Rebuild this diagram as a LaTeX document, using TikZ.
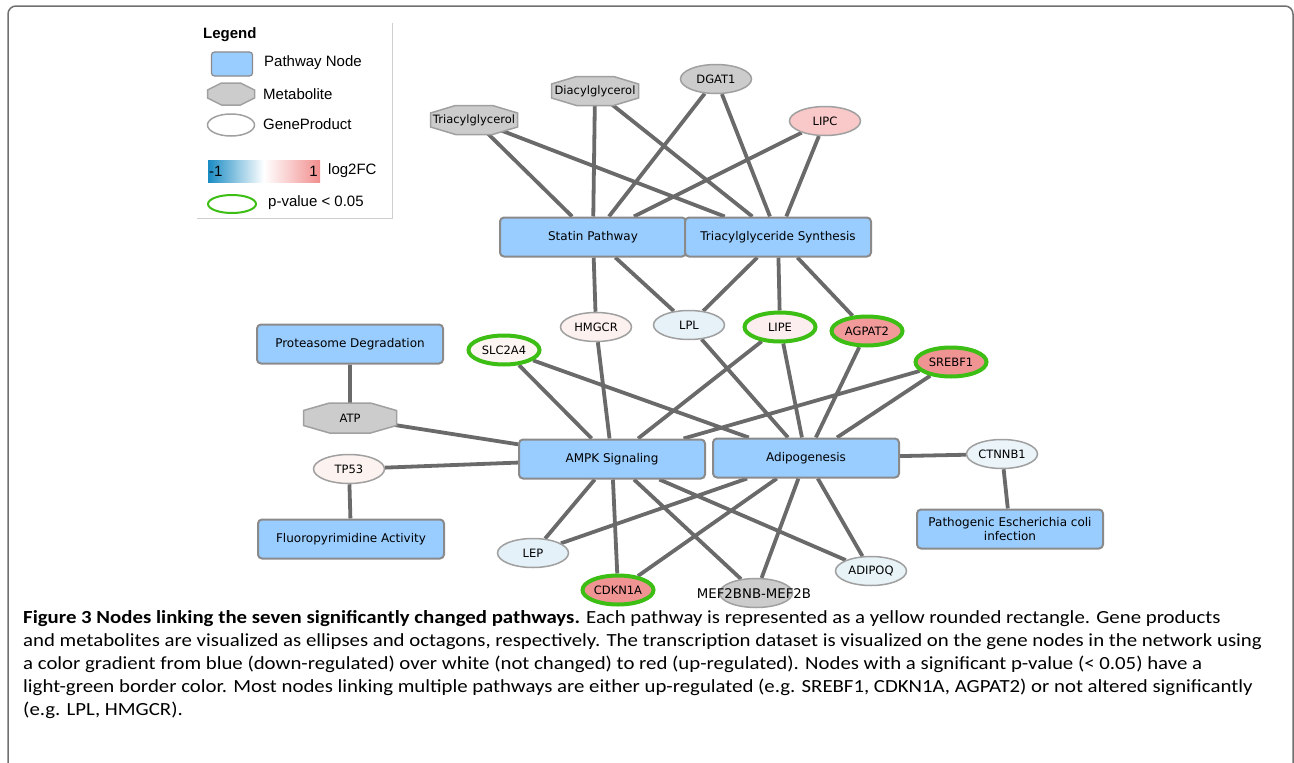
\documentclass[tikz,border=0pt]{standalone}
\usepackage{fontspec}
\setmainfont{DejaVu Sans}
\newfontfamily\legfont{Liberation Sans}
\newfontfamily\capfont[FakeStretch=1.125]{Carlito}
\usetikzlibrary{shapes.geometric}
\pgfdeclarelayer{edgelayer}
\pgfdeclarelayer{shapelayer}
\pgfsetlayers{edgelayer,shapelayer,main}
\definecolor{pathfill}{HTML}{99CCFF}
\definecolor{pathbord}{HTML}{8A8A8A}
\definecolor{genebord}{HTML}{A0A0A0}
\definecolor{sigcol}{HTML}{3CBE14}
\definecolor{metfill}{HTML}{CCCCCC}
\definecolor{edgecol}{HTML}{6A6A6A}
\definecolor{framecol}{HTML}{707070}
\definecolor{legbord}{HTML}{CFCFCF}
\definecolor{gradblue}{HTML}{1A8CC4}
\definecolor{gradred}{HTML}{F28E8E}
\definecolor{cLIPC}{HTML}{F9C8C8}
\definecolor{cHMGCR}{HTML}{FCF1EF}
\definecolor{cLPL}{HTML}{E6F2F8}
\definecolor{cLIPE}{HTML}{FCEEEE}
\definecolor{cAGPAT}{HTML}{F29A9A}
\definecolor{cSREBF}{HTML}{EF9393}
\definecolor{cSLC}{HTML}{FDF5F2}
\definecolor{cTP}{HTML}{FCF3F0}
\definecolor{cCTN}{HTML}{EAF4F9}
\definecolor{cLEP}{HTML}{E4F1F8}
\definecolor{cCDK}{HTML}{EF9393}
\definecolor{cADI}{HTML}{E8F3F8}
\newcommand\drawoct[3]{%
  \begin{pgfonlayer}{shapelayer}
  \path[metshape] ([xshift=#2]#1.north west) -- ([xshift=-#2]#1.north east)
    -- ([yshift=-#3]#1.north east) -- ([yshift=#3]#1.south east)
    -- ([xshift=-#2]#1.south east) -- ([xshift=#2]#1.south west)
    -- ([yshift=#3]#1.south west) -- ([yshift=-#3]#1.north west) -- cycle;
  \end{pgfonlayer}}
\begin{document}
\begin{tikzpicture}[x=1pt,y=-1pt,
  pathway/.style={draw=pathbord, line width=2pt, fill=pathfill, rounded corners=4pt,
    minimum width=186pt, minimum height=39pt, inner sep=2pt, align=center,
    font=\fontsize{12}{14}\selectfont},
  gene/.style={ellipse, draw=genebord, line width=1.5pt, minimum width=71pt,
    minimum height=29pt, inner sep=0pt, font=\fontsize{11.5}{13}\selectfont},
  sig/.style={draw=sigcol, line width=4pt},
  metab/.style={rectangle, minimum width=87pt, minimum height=29pt,
    inner sep=0pt, outer sep=0pt, font=\fontsize{11.5}{13}\selectfont},
  metshape/.style={draw=genebord, fill=metfill, line width=1.5pt, line join=miter},
  link/.style={draw=edgecol, line width=3.8pt},
  legtext/.style={anchor=west, inner sep=0pt, font=\legfont\fontsize{15}{17}\selectfont},
  capline/.style={anchor=base west, inner sep=0pt, font=\capfont\fontsize{18.5}{22}\selectfont}
]
\useasboundingbox (0,0) rectangle (1294,763);
% frame
\draw[framecol, line width=1.5pt, rounded corners=8pt] (8,770) -- (8,6) -- (1293,6) -- (1293,770);

% legend
\draw[legbord, line width=1pt] (197,218) -- (392,218) -- (392,23);
\node[anchor=west, inner sep=0pt, font=\legfont\bfseries\fontsize{15}{17}\selectfont] (legtitle) at (203,35) {Legend};
\node[draw=pathbord, line width=1.2pt, fill=pathfill, rounded corners=3pt, minimum width=41pt, minimum height=24pt] (legpath) at (232,64) {};
\node[legtext] (legpathtxt) at (264,63) {Pathway Node};
\node[metab, minimum width=47pt, minimum height=22pt] (legmet) at (231,94) {};
\drawoct{legmet}{14pt}{7pt}
\node[legtext] (legmettxt) at (263,94) {Metabolite};
\node[gene, fill=white, minimum width=47pt, minimum height=22pt] (leggene) at (231,125) {};
\node[legtext] (leggenetxt) at (263,124) {GeneProduct};
\shade[left color=gradblue, right color=gradred, middle color=white] (208,160) rectangle (320,182);
\node[anchor=west, inner sep=0pt, font=\legfont\fontsize{15}{17}\selectfont] (legminus) at (209,171) {-1};
\node[anchor=east, inner sep=0pt, font=\legfont\fontsize{15}{17}\selectfont] (legone) at (318,171) {1};
\node[legtext] (legfc) at (328,171) {log2FC};
\node[ellipse, draw=sigcol, line width=2pt, minimum width=48pt, minimum height=18pt, inner sep=0pt] (legsig) at (232,204) {};
\node[legtext] (legsigtxt) at (268,203) {p-value < 0.05};

% pathways
\node[pathway] (statin) at (593,237) {Statin Pathway};
\node[pathway] (tgs) at (778,237) {Triacylglyceride Synthesis};
\node[pathway] (prot) at (350,344) {Proteasome Degradation};
\node[pathway] (ampk) at (612,459) {AMPK Signaling};
\node[pathway] (adipo) at (806,458) {Adipogenesis};
\node[pathway] (fluoro) at (351,539) {Fluoropyrimidine Activity};
\node[pathway, font=\fontsize{12}{14.5}\selectfont] (pathog) at (1010,529) {Pathogenic Escherichia coli\\infection};

% metabolites
\node[metab] (triac) at (474,120) {Triacylglycerol};
\drawoct{triac}{25pt}{7.5pt}
\node[metab] (diac) at (595,91) {Diacylglycerol};
\drawoct{diac}{25pt}{7.5pt}
\node[metab, minimum width=93pt, minimum height=30pt] (atp) at (350,418) {ATP};
\drawoct{atp}{26pt}{7.5pt}

% genes
\node[gene, fill=metfill] (dgat) at (716,79) {DGAT1};
\node[gene, fill=cLIPC] (lipc) at (825,121) {LIPC};
\node[gene, fill=cHMGCR] (hmgcr) at (596,327) {HMGCR};
\node[gene, fill=cLPL] (lpl) at (689,325) {LPL};
\node[gene, sig, fill=cLIPE] (lipe) at (780,327) {LIPE};
\node[gene, sig, fill=cAGPAT] (agpat) at (867,331) {AGPAT2};
\node[gene, sig, fill=cSREBF] (srebf) at (951,362) {SREBF1};
\node[gene, sig, fill=cSLC] (slc) at (504,350) {SLC2A4};
\node[gene, fill=cTP] (tp53) at (349,469) {TP53};
\node[gene, fill=cCTN] (ctnnb) at (1002,454) {CTNNB1};
\node[gene, fill=cLEP] (lep) at (533,553) {LEP};
\node[gene, sig, fill=cCDK] (cdkn) at (618,590) {CDKN1A};
\node[gene, fill=cADI] (adipoq) at (871,571) {ADIPOQ};
\node[gene, fill=metfill, minimum width=73pt] (mef) at (756,593) {};
\node[inner sep=0pt, font=\fontsize{13.3}{14}\selectfont] (meftxt) at (754,594) {MEF2BNB-MEF2B};

% connectors
\begin{pgfonlayer}{edgelayer}
\path[link] (triac.center) -- (statin) (triac.center) -- (tgs)
  (diac.center) -- (statin) (diac.center) -- (tgs)
  (dgat) -- (statin) (dgat) -- (tgs)
  (lipc) -- (statin) (lipc) -- (tgs)
  (statin) -- (hmgcr) (statin) -- (lpl)
  (tgs) -- (lpl) (tgs) -- (lipe) (tgs) -- (agpat)
  (hmgcr) -- (ampk) (lpl) -- (adipo)
  (lipe) -- (ampk) (lipe) -- (adipo)
  (agpat) -- (adipo)
  (srebf) -- (ampk) (srebf) -- (adipo)
  (slc) -- (ampk) (slc) -- (adipo)
  (prot) -- (atp.center) (atp.center) -- (ampk)
  (tp53) -- (ampk) (tp53) -- (fluoro)
  (adipo) -- (ctnnb) (ctnnb) -- (pathog)
  (ampk) -- (lep) (ampk) -- (cdkn) (ampk) -- (mef) (ampk) -- (adipoq)
  (adipo) -- (lep) (adipo) -- (cdkn) (adipo) -- (mef) (adipo) -- (adipoq);
\end{pgfonlayer}

% caption
\node[capline] (cap1) at (23,623) {\textbf{Figure 3 Nodes linking the seven significantly changed pathways.} Each pathway is represented as a yellow rounded rectangle. Gene products};
\node[capline] (cap2) at (23,646) {and metabolites are visualized as ellipses and octagons, respectively. The transcription dataset is visualized on the gene nodes in the network using};
\node[capline] (cap3) at (23,669) {a color gradient from blue (down-regulated) over white (not changed) to red (up-regulated). Nodes with a significant p-value (< 0.05) have a};
\node[capline] (cap4) at (23,692) {light-green border color. Most nodes linking multiple pathways are either up-regulated (e.g. SREBF1, CDKN1A, AGPAT2) or not altered significantly};
\node[capline] (cap5) at (23,715) {(e.g. LPL, HMGCR).};
\end{tikzpicture}
\end{document}
